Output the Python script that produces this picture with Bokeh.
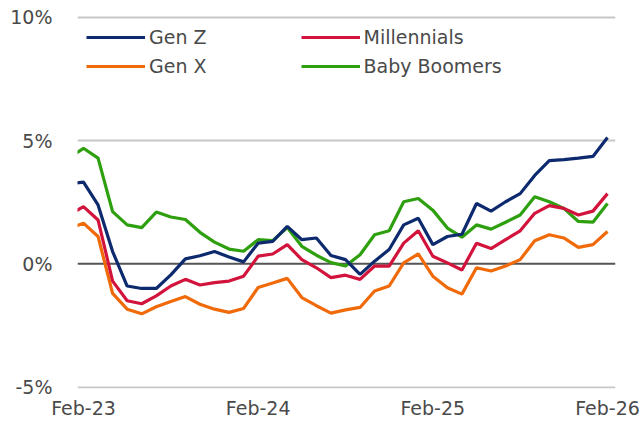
from bokeh.plotting import figure
from bokeh.models import Legend, LegendItem, FixedTicker, ColumnDataSource, Span
from bokeh.embed import file_html
from bokeh.resources import INLINE

# Month index: 0 = Feb-23 ... 36 = Feb-26 ; -1 = Jan-23 (clipped by the axis)
months = list(range(-1, 37))
tick_positions = [0, 12, 24, 36]
tick_labels = ["Feb-23", "Feb-24", "Feb-25", "Feb-26"]

gen_z = [3.25, 3.32, 2.39, 0.5, -0.90, -1.0, -1.0, -0.45, 0.2, 0.33, 0.5, 0.28, 0.08,
         0.84, 0.91, 1.52, 0.98, 1.05, 0.34, 0.17, -0.43, 0.11, 0.58, 1.58, 1.85,
         0.78, 1.11, 1.2, 2.45, 2.14, 2.52, 2.85, 3.59, 4.19, 4.23, 4.29, 4.36, 5.13]
millennials = [1.98, 2.32, 1.78, -0.7, -1.50, -1.62, -1.30, -0.90, -0.63, -0.86, -0.76,
               -0.70, -0.50, 0.31, 0.40, 0.78, 0.17, -0.16, -0.56, -0.46, -0.63, -0.09,
               -0.09, 0.84, 1.34, 0.31, 0.04, -0.25, 0.84, 0.62, 0.98, 1.34, 2.05, 2.36,
               2.25, 1.98, 2.14, 2.85]
gen_x = [1.43, 1.65, 1.11, -1.2, -1.84, -2.03, -1.74, -1.53, -1.33, -1.64, -1.84, -1.97,
         -1.81, -0.96, -0.78, -0.59, -1.37, -1.70, -2.0, -1.87, -1.77, -1.10, -0.90,
         0.04, 0.40, -0.50, -0.97, -1.23, -0.16, -0.29, -0.09, 0.17, 0.94, 1.18, 1.05,
         0.67, 0.78, 1.31]
boomers = [4.30, 4.69, 4.29, 2.12, 1.58, 1.47, 2.1, 1.9, 1.8, 1.28, 0.88, 0.60, 0.51,
           0.98, 0.94, 1.47, 0.71, 0.35, 0.05, -0.09, 0.37, 1.18, 1.34, 2.52, 2.65, 2.18,
           1.45, 1.08, 1.58, 1.41, 1.69, 1.98, 2.72, 2.52, 2.25, 1.72, 1.69, 2.45]

y_ticks = [-5, 0, 5, 10]
y_labels = ["-5%", "0%", "5%", "10%"]

FONT = "DejaVu Sans"
TXT = "#4a4a4a"

p = figure(width=642, height=421, output_backend="svg", toolbar_location=None,
           x_range=(-0.412, 36.55), y_range=(-5.06, 10.08),
           min_border_left=77, min_border_right=27, min_border_top=15, min_border_bottom=30)
p.outline_line_color = None
p.background_fill_color = "white"
p.border_fill_color = "white"

src = ColumnDataSource(dict(m=months, z=gen_z, mil=millennials, x=gen_x, b=boomers))
colors = {"z": "#0e2a6e", "mil": "#d2143c", "x": "#f06a0a", "b": "#2ea00f"}
r_b = p.line("m", "b", source=src, line_color=colors["b"], line_width=3.2)
r_x = p.line("m", "x", source=src, line_color=colors["x"], line_width=3.2)
r_mil = p.line("m", "mil", source=src, line_color=colors["mil"], line_width=3.2)
r_z = p.line("m", "z", source=src, line_color=colors["z"], line_width=3.2)

# zero line
p.add_layout(Span(location=0, dimension="width", line_color="#555555", line_width=2, level="underlay"))

# axes
p.xaxis.ticker = FixedTicker(ticks=tick_positions)
p.xaxis.major_label_overrides = {t: l for t, l in zip(tick_positions, tick_labels)}
p.yaxis.ticker = FixedTicker(ticks=y_ticks)
p.yaxis.major_label_overrides = {t: l for t, l in zip(y_ticks, y_labels)}
for ax in (p.xaxis, p.yaxis):
    ax.axis_line_color = None
    ax.major_tick_line_color = None
    ax.minor_tick_line_color = None
    ax.major_tick_out = 0
    ax.major_tick_in = 0
    ax.minor_tick_out = 0
    ax.minor_tick_in = 0
    ax.axis_label_standoff = 0
    ax.major_label_text_font = FONT
    ax.major_label_text_color = TXT
    ax.major_label_text_font_size = "19px"
p.yaxis.major_label_standoff = 25
p.xaxis.major_label_standoff = 8

p.xgrid.grid_line_color = None
p.ygrid.ticker = FixedTicker(ticks=[-5, 5, 10])
p.ygrid.grid_line_color = "#c8c8c8"
p.ygrid.grid_line_width = 2

def mk_legend(items, loc):
    lg = Legend(items=items, location=loc, orientation="horizontal",
                glyph_width=59, glyph_height=24, label_height=24, label_standoff=4,
                spacing=94, padding=0, margin=0, border_line_color=None,
                background_fill_alpha=0, label_text_font=FONT,
                label_text_font_size="19px", label_text_color=TXT)
    return lg

leg1 = mk_legend([LegendItem(label="Gen Z", renderers=[r_z]),
                  LegendItem(label="Millennials", renderers=[r_mil])], (9, 339))
leg2 = mk_legend([LegendItem(label="Gen X", renderers=[r_x]),
                  LegendItem(label="Baby Boomers", renderers=[r_b])], (9, 310))
p.add_layout(leg1, "center")
p.add_layout(leg2, "center")

open("out.html", "w").write(file_html(p, INLINE))
